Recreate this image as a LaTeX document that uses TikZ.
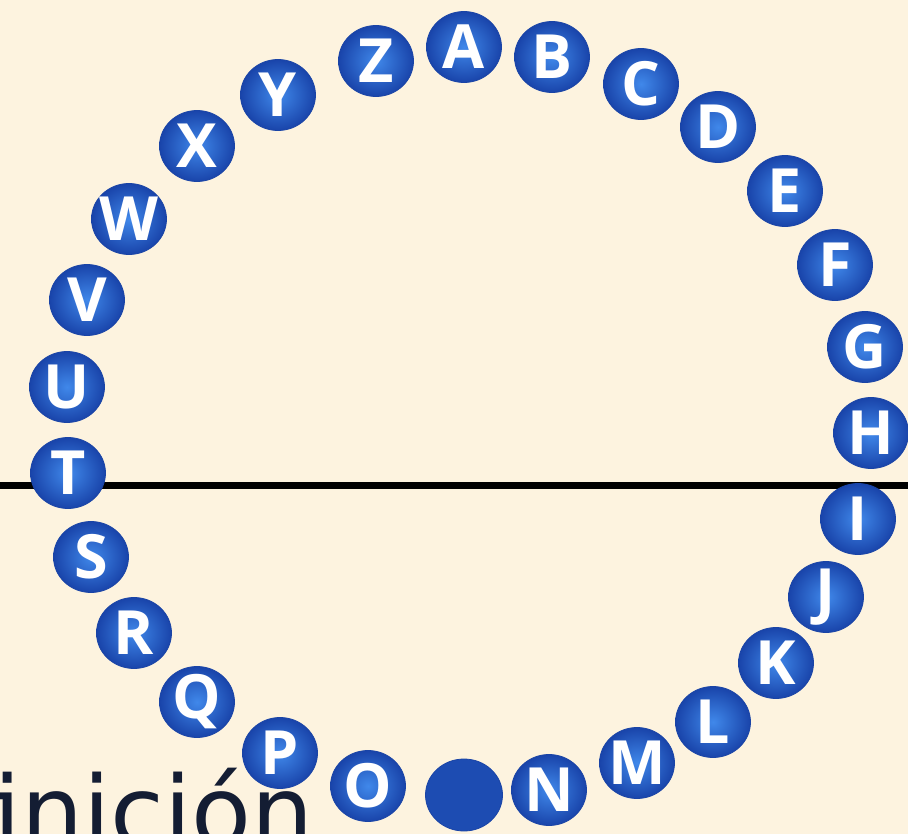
\documentclass[tikz,border=0pt]{standalone}
\usepackage{fontspec}
\setmainfont{DejaVu Sans}
\newfontfamily\letfont{Open Sans}
\usetikzlibrary{shapes.geometric}
\definecolor{bg}{HTML}{FDF3DF}
\definecolor{txt}{HTML}{141D33}
\definecolor{ballin}{HTML}{4088EA}
\definecolor{ballout}{HTML}{1944AA}
\definecolor{balledge}{HTML}{1A44A6}
\definecolor{flat}{HTML}{1D4CB2}
\tikzset{
  ball/.style={shape=ellipse, minimum width=75pt, minimum height=71pt, inner sep=0pt,
    shading=radial, inner color=ballin, outer color=ballout, draw=balledge, line width=0.8pt},
  flatball/.style={shape=ellipse, minimum width=77pt, minimum height=72pt, inner sep=0pt,
    fill=flat, draw=balledge, line width=0.8pt},
  lett/.style={text=white, inner sep=0pt, font=\letfont\bfseries\fontsize{61}{61}\selectfont},
  bar/.style={line width=7pt, black}
}
\begin{document}
\begin{tikzpicture}[x=1pt,y=-1pt]
\useasboundingbox (0,0) rectangle (908,834);
\fill[bg] (0,0) rectangle (908,834);
\begin{scope}
\clip (0,0) rectangle (908,834);
\node[anchor=base west, text=txt, inner sep=0pt, font=\fontsize{98}{98}\selectfont] (word) at (-40.7,846) {finición};
\end{scope}
\coordinate (l0) at (0,485.5);
\coordinate (l1) at (908,485.5);
\draw[bar] (l0) -- (l1);
\foreach \n/\x/\y in {A/464/47, B/552/57, C/641/84, D/718/127, E/785/191, F/835/265,
  G/865/347, H/871/433, I/858/519, J/826/597, K/776/663, L/713/722, M/637/763,
  N/549/790, O/368/786, P/280/753, Q/197/702, R/134/633, S/91/557, T/68/473,
  U/67/387, V/87/300, W/129/219, X/197/146, Y/278/95, Z/376/61}{
  \node[ball] (b\n) at (\x,\y) {};
  \node[lett] (t\n) at (b\n) {\n};
}
\node[flatball] (blank) at (464,795) {};
\end{tikzpicture}
\end{document}
